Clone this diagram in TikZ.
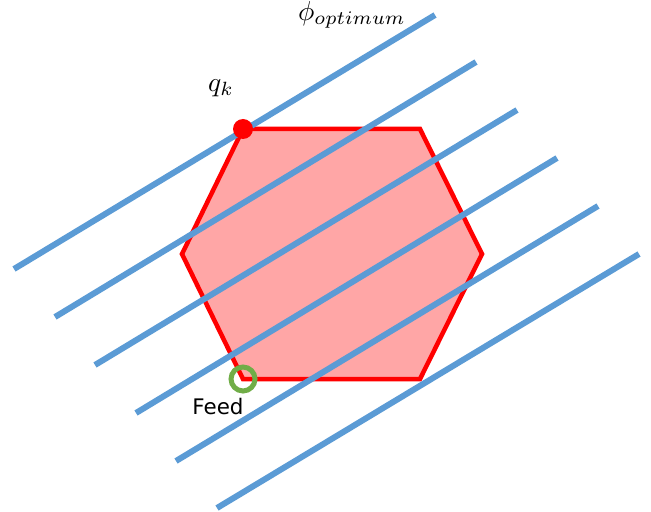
\documentclass[tikz,border=0pt]{standalone}
\usepackage{fontspec}
\newfontfamily\labelfont{DejaVu Sans}
\definecolor{hexred}{HTML}{FF0000}
\definecolor{hexfill}{HTML}{FFA6A6}
\definecolor{lineblue}{HTML}{5B9BD5}
\definecolor{feedgreen}{HTML}{70AD47}
\newcommand{\bigmath}[1]{\scalebox{2.75}{$#1$}}
\begin{document}
\begin{tikzpicture}[x=1bp,y=-1bp,
  hexstyle/.style={draw=hexred,fill=hexfill,line width=4.5bp,line join=miter},
  isoline/.style={draw=lineblue,line width=6bp},
  optdot/.style={circle,fill=hexred,inner sep=0pt,minimum size=20bp},
  feedring/.style={circle,draw=feedgreen,line width=5bp,inner sep=0pt,minimum size=24bp},
  mathlabel/.style={inner sep=0pt},
  textlabel/.style={inner sep=0pt,font=\labelfont\fontsize{21.5}{26}\selectfont}]
\useasboundingbox (0,0) rectangle (651,512);
% hexagon
\coordinate (h1) at (243,129);
\coordinate (h2) at (420,129);
\coordinate (h3) at (482,254);
\coordinate (h4) at (420,379);
\coordinate (h5) at (243,379);
\coordinate (h6) at (182,254);
\path[hexstyle] (h1) -- (h2) -- (h3) -- (h4) -- (h5) -- (h6) -- cycle;
% iso-lines
\coordinate (a1) at (14,269);  \coordinate (b1) at (435,15);
\coordinate (a2) at (55,317);  \coordinate (b2) at (476,62);
\coordinate (a3) at (95,365);  \coordinate (b3) at (517,110);
\coordinate (a4) at (136,413); \coordinate (b4) at (557,158);
\coordinate (a5) at (176,461); \coordinate (b5) at (598,206);
\coordinate (a6) at (217,508); \coordinate (b6) at (639,254);
\foreach \i in {1,...,6} \draw[isoline] (a\i) -- (b\i);
% markers
\node[optdot] (qk) at (h1) {};
\node[feedring] (feed) at (h5) {};
% labels
\node[mathlabel] (qklabel) at (221,88) {\bigmath{q_k}};
\node[mathlabel] (philabel) at (352,15) {\bigmath{\phi_{optimum}}};
\node[textlabel] (feedlabel) at (218,407) {Feed};
\end{tikzpicture}
\end{document}
